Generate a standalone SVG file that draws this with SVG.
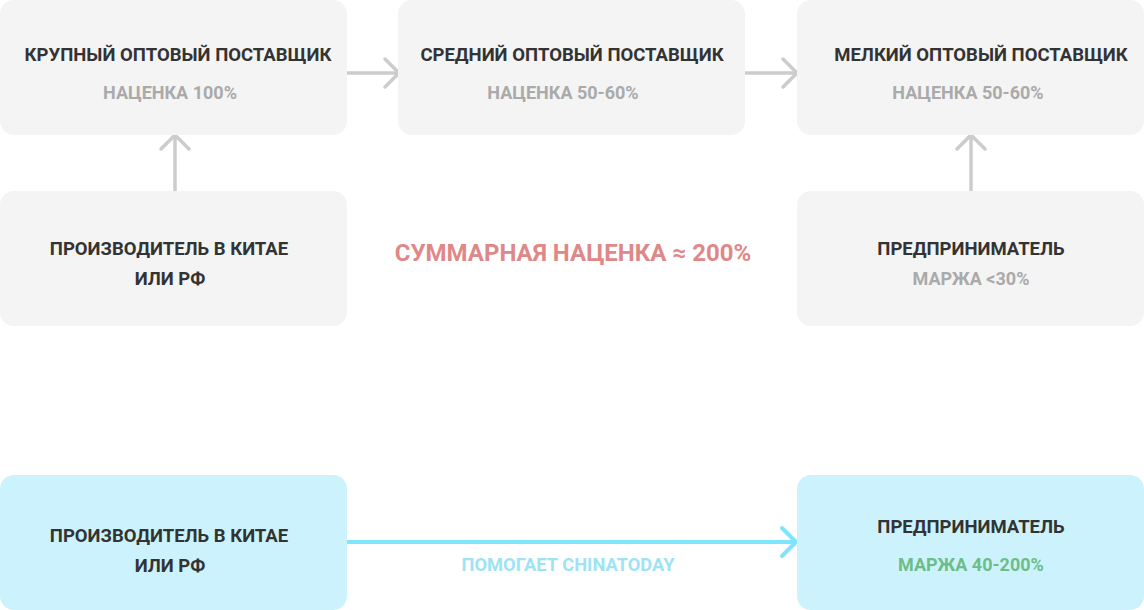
<svg xmlns="http://www.w3.org/2000/svg" width="1144" height="610" viewBox="0 0 1144 610">
<style>
.box{fill:#f4f4f4}
.cbox{fill:#ccf3fd}
text{font-family:Roboto,"Noto Sans","Liberation Sans",sans-serif;font-weight:700;text-anchor:middle}
.t{font-size:18.5px;fill:#333333}
.s{font-size:18px;fill:#aaaaaa}
.g{fill:none;stroke:#cccccc;stroke-width:3.5;stroke-linecap:round;stroke-linejoin:round}
.c{fill:none;stroke:#7fe5fd;stroke-width:4;stroke-linecap:round;stroke-linejoin:round}
</style>
<rect width="1144" height="610" fill="#ffffff"/>
<g id="connectors">
<line class="g" x1="347" y1="73" x2="398" y2="73"/><polyline class="g" points="385,59 399,73 385,87"/>
<line class="g" x1="745" y1="73" x2="797" y2="73"/><polyline class="g" points="783,59 797,73 783,87"/>
<line class="g" x1="175" y1="191" x2="175" y2="136"/><polyline class="g" points="161,149 175,135 189,149"/>
<line class="g" x1="971" y1="191" x2="971" y2="136"/><polyline class="g" points="957,149 971,135 985,149"/>
<line class="c" x1="347" y1="542" x2="796" y2="542"/><polyline class="c" points="782,528 796,542 782,556"/>
<text x="568" y="571" style="font-size:18.3px;fill:#9ee3f4">ПОМОГАЕТ CHINATODAY</text>
</g>
<g id="n1"><rect class="box" x="0" y="0" width="347" height="135" rx="14"/>
<text class="t" x="178" y="61">КРУПНЫЙ ОПТОВЫЙ ПОСТАВЩИК</text>
<text class="s" x="170" y="99">НАЦЕНКА 100%</text></g>
<g id="n2"><rect class="box" x="398" y="0" width="347" height="135" rx="14"/>
<text class="t" x="572" y="61">СРЕДНИЙ ОПТОВЫЙ ПОСТАВЩИК</text>
<text class="s" x="563" y="99">НАЦЕНКА 50-60%</text></g>
<g id="n3"><rect class="box" x="797" y="0" width="347" height="135" rx="14"/>
<text class="t" x="981" y="61">МЕЛКИЙ ОПТОВЫЙ ПОСТАВЩИК</text>
<text class="s" x="968" y="99">НАЦЕНКА 50-60%</text></g>
<g id="n4"><rect class="box" x="0" y="191" width="347" height="135" rx="14"/>
<text class="t" x="169" y="255">ПРОИЗВОДИТЕЛЬ В КИТАЕ</text>
<text class="t" x="170" y="285">ИЛИ РФ</text></g>
<g id="n5"><rect class="box" x="797" y="191" width="347" height="135" rx="14"/>
<text class="t" x="971" y="255">ПРЕДПРИНИМАТЕЛЬ</text>
<text class="s" x="971" y="285">МАРЖА &lt;30%</text></g>
<g id="total"><text x="573" y="261" style="font-size:24px;fill:#e08787">СУММАРНАЯ НАЦЕНКА ≈ 200%</text></g>
<g id="n6"><rect class="cbox" x="0" y="475" width="347" height="135" rx="14"/>
<text class="t" x="169" y="542">ПРОИЗВОДИТЕЛЬ В КИТАЕ</text>
<text class="t" x="170" y="572">ИЛИ РФ</text></g>
<g id="n7"><rect class="cbox" x="797" y="475" width="347" height="135" rx="14"/>
<text class="t" x="971" y="533">ПРЕДПРИНИМАТЕЛЬ</text>
<text class="s" x="971" y="571" style="fill:#6cbd87">МАРЖА 40-200%</text></g>
</svg>
